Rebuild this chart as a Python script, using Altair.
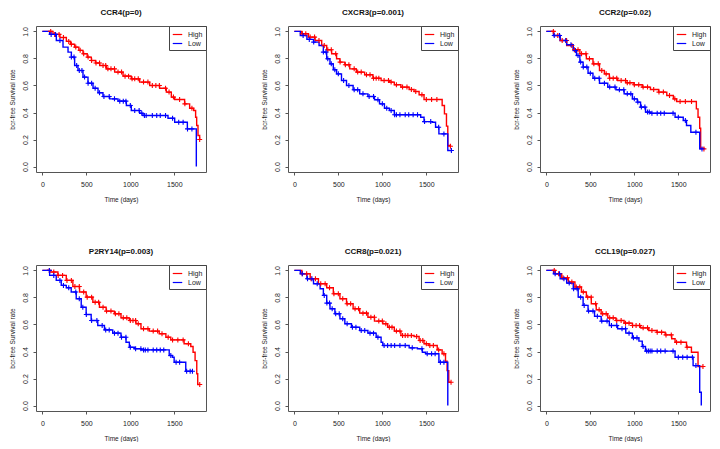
import altair as alt
import pandas as pd

FONT = "Liberation Sans"
GROUPS = ["High", "Low"]
COLORS = ["#FF0000", "#0000FF"]
X_TICKS = [0, 500, 1000, 1500]
Y_TICKS = [0.0, 0.2, 0.4, 0.6, 0.8, 1.0]

TITLES = ["CCR4(p=0)", "CXCR3(p=0.001)", "CCR2(p=0.02)",
          "P2RY14(p=0.003)", "CCR8(p=0.021)", "CCL19(p=0.027)"]

# ---- step curves (time in days, survival after the step) ----
ccr4_high = [(0, 1.0), (121, 0.978), (200, 0.955), (273, 0.926), (320, 0.905), (367, 0.884), (415, 0.86),
             (462, 0.835), (510, 0.81), (557, 0.785), (605, 0.766), (652, 0.748), (727, 0.723), (822, 0.699),
             (917, 0.669), (1011, 0.649), (1106, 0.625), (1220, 0.600), (1333, 0.580), (1409, 0.551),
             (1466, 0.514), (1504, 0.496), (1617, 0.464), (1674, 0.432), (1720, 0.415), (1742, 0.365),
             (1754, 0.304), (1769, 0.23), (1788, 0.2)]
ccr4_low = [(0, 1.0), (83, 0.978), (159, 0.933), (235, 0.884), (292, 0.847), (330, 0.810), (367, 0.748),
            (405, 0.711), (462, 0.662), (519, 0.617), (576, 0.580), (633, 0.546), (689, 0.519), (765, 0.501),
            (860, 0.484), (955, 0.452), (1011, 0.415), (1106, 0.395), (1144, 0.378), (1428, 0.358),
            (1504, 0.328), (1648, 0.279), (1750, 0.0)]

cxcr3_high = [(0, 1.0), (86, 0.983), (161, 0.958), (236, 0.933), (311, 0.896), (368, 0.864), (424, 0.835),
              (480, 0.798), (518, 0.773), (574, 0.753), (630, 0.723), (705, 0.699), (799, 0.679), (893, 0.654),
              (986, 0.637), (1080, 0.625), (1136, 0.605), (1211, 0.588), (1305, 0.570), (1361, 0.556),
              (1418, 0.531), (1474, 0.496), (1680, 0.452), (1706, 0.390), (1729, 0.299), (1744, 0.156),
              (1774, 0.151)]
cxcr3_low = [(0, 1.0), (68, 0.970), (143, 0.941), (218, 0.921), (281, 0.896), (330, 0.847), (368, 0.798),
             (405, 0.760), (443, 0.716), (480, 0.686), (536, 0.637), (593, 0.600), (668, 0.568), (743, 0.538),
             (836, 0.519), (911, 0.494), (968, 0.464), (1024, 0.432), (1080, 0.415), (1136, 0.383),
             (1436, 0.365), (1474, 0.333), (1568, 0.328), (1605, 0.291), (1643, 0.242), (1744, 0.119),
             (1785, 0.119)]

ccr2_high = [(0, 1.0), (82, 0.970), (157, 0.933), (231, 0.896), (306, 0.864), (381, 0.835), (455, 0.798),
             (530, 0.760), (604, 0.711), (660, 0.686), (716, 0.654), (810, 0.637), (903, 0.620), (996, 0.605),
             (1090, 0.588), (1183, 0.570), (1276, 0.551), (1369, 0.526), (1444, 0.501), (1481, 0.481),
             (1705, 0.427), (1724, 0.365), (1743, 0.284), (1754, 0.136), (1791, 0.131)]
ccr2_low = [(0, 1.0), (82, 0.970), (157, 0.933), (231, 0.901), (306, 0.859), (343, 0.822), (381, 0.773),
            (418, 0.736), (474, 0.691), (530, 0.654), (604, 0.617), (698, 0.588), (791, 0.568), (884, 0.538),
            (978, 0.501), (1034, 0.477), (1071, 0.440), (1127, 0.403), (1183, 0.395), (1463, 0.365),
            (1556, 0.341), (1593, 0.304), (1642, 0.254), (1743, 0.131), (1769, 0.131)]

p2ry14_high = [(0, 1.0), (83, 0.988), (177, 0.963), (272, 0.926), (347, 0.881), (423, 0.840), (498, 0.802),
               (574, 0.765), (649, 0.728), (725, 0.699), (819, 0.679), (894, 0.649), (989, 0.630), (1064, 0.605),
               (1121, 0.568), (1215, 0.551), (1328, 0.531), (1404, 0.506), (1460, 0.486), (1611, 0.457),
               (1687, 0.437), (1713, 0.395), (1736, 0.333), (1755, 0.235), (1766, 0.156), (1789, 0.156)]
p2ry14_low = [(0, 1.0), (83, 0.963), (158, 0.926), (215, 0.889), (272, 0.872), (328, 0.840), (385, 0.790),
              (442, 0.728), (498, 0.674), (555, 0.630), (630, 0.593), (706, 0.560), (800, 0.536), (894, 0.506),
              (951, 0.469), (989, 0.432), (1045, 0.420), (1121, 0.412), (1442, 0.370), (1479, 0.358),
              (1498, 0.321), (1630, 0.254), (1706, 0.254)]

ccr8_high = [(0, 1.0), (86, 0.975), (180, 0.938), (274, 0.901), (368, 0.872), (443, 0.827), (518, 0.790),
             (593, 0.753), (668, 0.716), (743, 0.684), (836, 0.654), (911, 0.625), (1005, 0.605), (1061, 0.580),
             (1136, 0.551), (1211, 0.519), (1361, 0.511), (1418, 0.481), (1474, 0.457), (1530, 0.444),
             (1624, 0.412), (1680, 0.383), (1718, 0.328), (1736, 0.259), (1755, 0.173), (1781, 0.173)]
ccr8_low = [(0, 1.0), (68, 0.975), (143, 0.938), (218, 0.901), (293, 0.864), (330, 0.815), (368, 0.758),
            (405, 0.716), (461, 0.679), (518, 0.642), (574, 0.605), (649, 0.580), (743, 0.556), (836, 0.536),
            (930, 0.506), (986, 0.469), (1005, 0.444), (1305, 0.427), (1399, 0.420), (1455, 0.395),
            (1493, 0.383), (1643, 0.321), (1744, 0.0)]

ccl19_high = [(0, 1.0), (101, 0.975), (175, 0.946), (250, 0.914), (325, 0.877), (399, 0.840), (455, 0.802),
              (511, 0.753), (567, 0.709), (623, 0.679), (698, 0.649), (791, 0.630), (884, 0.610), (978, 0.593),
              (1071, 0.575), (1164, 0.556), (1257, 0.543), (1351, 0.523), (1425, 0.494), (1463, 0.469),
              (1593, 0.432), (1649, 0.395), (1724, 0.289), (1780, 0.289)]
ccl19_low = [(0, 1.0), (82, 0.975), (157, 0.938), (231, 0.906), (306, 0.864), (362, 0.802), (418, 0.741),
             (474, 0.699), (548, 0.660), (623, 0.625), (716, 0.593), (810, 0.568), (903, 0.536), (978, 0.501),
             (1052, 0.477), (1090, 0.437), (1127, 0.403), (1463, 0.358), (1668, 0.296), (1743, 0.099),
             (1761, 0.0)]

# ---- censoring times ----
ccr4_high_cens = [95, 140, 190, 240, 300, 330, 380, 430, 470, 520, 560, 610, 650, 690, 720, 745, 780, 820, 860,
                  900, 940, 980, 1020, 1050, 1090, 1150, 1200, 1250, 1290, 1330, 1400, 1440, 1490, 1560, 1620,
                  1700, 1788]
ccr4_low_cens = [100, 150, 200, 330, 360, 390, 420, 450, 480, 520, 560, 600, 650, 700, 760, 820, 880, 920, 950,
                 1000, 1050, 1100, 1130, 1160, 1180, 1250, 1300, 1340, 1400, 1480, 1550, 1600, 1650, 1700]
cxcr3_high_cens = [90, 130, 180, 230, 280, 340, 380, 420, 470, 520, 580, 620, 680, 720, 760, 820, 860, 900, 930,
                   960, 1020, 1070, 1100, 1160, 1230, 1280, 1330, 1380, 1450, 1500, 1560, 1620, 1774]
cxcr3_low_cens = [100, 170, 220, 330, 360, 380, 420, 460, 500, 560, 620, 680, 720, 780, 850, 900, 950, 1000,
                  1050, 1100, 1140, 1160, 1200, 1260, 1300, 1350, 1400, 1480, 1550, 1640, 1700, 1785]
ccr2_high_cens = [80, 130, 180, 230, 290, 320, 360, 400, 450, 490, 540, 590, 630, 680, 720, 760, 800, 850, 900,
                  920, 950, 1000, 1050, 1100, 1150, 1220, 1280, 1330, 1400, 1460, 1520, 1580, 1650, 1791]
ccr2_low_cens = [90, 150, 220, 280, 330, 360, 390, 420, 460, 500, 550, 600, 660, 720, 780, 830, 880, 920, 960,
                 1000, 1040, 1080, 1120, 1150, 1170, 1200, 1260, 1300, 1340, 1440, 1500, 1580, 1700, 1769]
p2ry14_high_cens = [80, 130, 180, 230, 280, 330, 370, 420, 470, 510, 560, 600, 640, 690, 730, 780, 830, 870,
                    920, 960, 1000, 1030, 1060, 1090, 1150, 1200, 1260, 1310, 1360, 1430, 1480, 1540, 1600,
                    1660, 1789]
p2ry14_low_cens = [80, 130, 200, 240, 300, 380, 420, 460, 500, 560, 620, 680, 720, 760, 820, 860, 900, 950,
                   1000, 1060, 1120, 1150, 1170, 1200, 1260, 1300, 1340, 1380, 1460, 1520, 1560, 1640, 1680, 1706]
ccr8_high_cens = [90, 140, 190, 240, 300, 350, 400, 450, 500, 550, 600, 640, 690, 730, 780, 820, 870, 910, 960,
                  1000, 1040, 1080, 1110, 1160, 1200, 1230, 1260, 1290, 1330, 1390, 1430, 1460, 1500, 1540, 1580,
                  1640, 1700, 1781]
ccr8_low_cens = [90, 150, 200, 260, 340, 370, 400, 430, 470, 510, 550, 600, 660, 700, 760, 800, 860, 900, 950,
                 1020, 1060, 1100, 1140, 1200, 1260, 1340, 1450, 1510, 1560, 1600, 1660, 1700]
ccl19_high_cens = [90, 140, 190, 240, 290, 340, 380, 420, 470, 510, 560, 600, 640, 680, 720, 760, 800, 850,
                   900, 940, 980, 1020, 1060, 1100, 1150, 1200, 1260, 1310, 1360, 1420, 1480, 1530, 1600, 1780]
ccl19_low_cens = [100, 150, 200, 260, 310, 350, 390, 430, 480, 530, 580, 630, 690, 740, 800, 860, 900, 940,
                  990, 1030, 1100, 1140, 1160, 1180, 1200, 1260, 1300, 1350, 1440, 1500, 1550, 1600, 1660, 1700]

PANELS = [
    (TITLES[0], ccr4_high, ccr4_low, ccr4_high_cens, ccr4_low_cens),
    (TITLES[1], cxcr3_high, cxcr3_low, cxcr3_high_cens, cxcr3_low_cens),
    (TITLES[2], ccr2_high, ccr2_low, ccr2_high_cens, ccr2_low_cens),
    (TITLES[3], p2ry14_high, p2ry14_low, p2ry14_high_cens, p2ry14_low_cens),
    (TITLES[4], ccr8_high, ccr8_low, ccr8_high_cens, ccr8_low_cens),
    (TITLES[5], ccl19_high, ccl19_low, ccl19_high_cens, ccl19_low_cens),
]


def step_at(curve, t):
    """Kaplan-Meier step value of a read curve at time t."""
    v = curve[0][1]
    for tt, s in curve:
        if tt <= t:
            v = s
        else:
            break
    return v


CROSS = "M-1,0H1M0,-1V1"


def panel(title, high, low, high_c, low_c):
    rows = [{"time": t, "surv": s, "group": "High"} for t, s in high]
    rows += [{"time": t, "surv": s, "group": "Low"} for t, s in low]
    cens = [{"time": t, "surv": step_at(high, t), "group": "High"} for t in high_c]
    cens += [{"time": t, "surv": step_at(low, t), "group": "Low"} for t in low_c]
    lines_df = pd.DataFrame(rows)
    cens_df = pd.DataFrame(cens)

    x = alt.X("time:Q",
              scale=alt.Scale(domain=[-72, 1860], nice=False, zero=False),
              axis=alt.Axis(values=X_TICKS, title="Time (days)", labelPadding=5,
                            titlePadding=9, format="d"))
    y = alt.Y("surv:Q",
              scale=alt.Scale(domain=[-0.04, 1.04], nice=False, zero=False),
              axis=alt.Axis(values=Y_TICKS, format=".1f", title="bcr-free Survival rate",
                            labelAngle=270, labelAlign="center", labelBaseline="bottom",
                            labelPadding=5, titlePadding=6))
    scale = alt.Scale(domain=GROUPS, range=COLORS)
    line = alt.Chart(lines_df).mark_line(interpolate="step-after", strokeWidth=1.4).encode(
        x=x, y=y,
        color=alt.Color("group:N", scale=scale,
                        legend=alt.Legend(title=None, orient="top-right", offset=0, padding=3,
                                          strokeColor="#444", fillColor="white", symbolType="stroke",
                                          symbolSize=90, symbolStrokeWidth=1.2, labelFontSize=7,
                                          labelFont=FONT, labelColor="#222", rowPadding=0,
                                          labelOffset=5, cornerRadius=0)),
    )
    pts = alt.Chart(cens_df).mark_point(shape=CROSS, size=25, filled=False, strokeWidth=1.1, opacity=1).encode(
        x=x, y=y,
        color=alt.Color("group:N", scale=scale, legend=None),
    )
    return alt.layer(line, pts).properties(
        width=170, height=146,
        title=alt.TitleParams(title, fontSize=8, fontWeight="bold", font=FONT, frame="group",
                              anchor="middle", offset=9, color="#111"),
    )


charts = [panel(*p) for p in PANELS]

chart = alt.concat(*charts, columns=3, spacing={"row": 44, "column": 53}).resolve_scale(
    color="independent").resolve_legend(color="independent").properties(
    padding={"left": 0, "top": 0, "right": 0, "bottom": 0}
).configure(background="white").configure_view(stroke="#555", strokeWidth=1).configure_axis(
    labelFont=FONT, titleFont=FONT, labelFontSize=7, titleFontSize=6.5, titleFontWeight="normal",
    labelColor="#222", titleColor="#222", tickColor="#555", tickSize=3, domain=False, grid=False,
)

chart.save("out.html", embed_options={"renderer": "svg", "actions": False})
